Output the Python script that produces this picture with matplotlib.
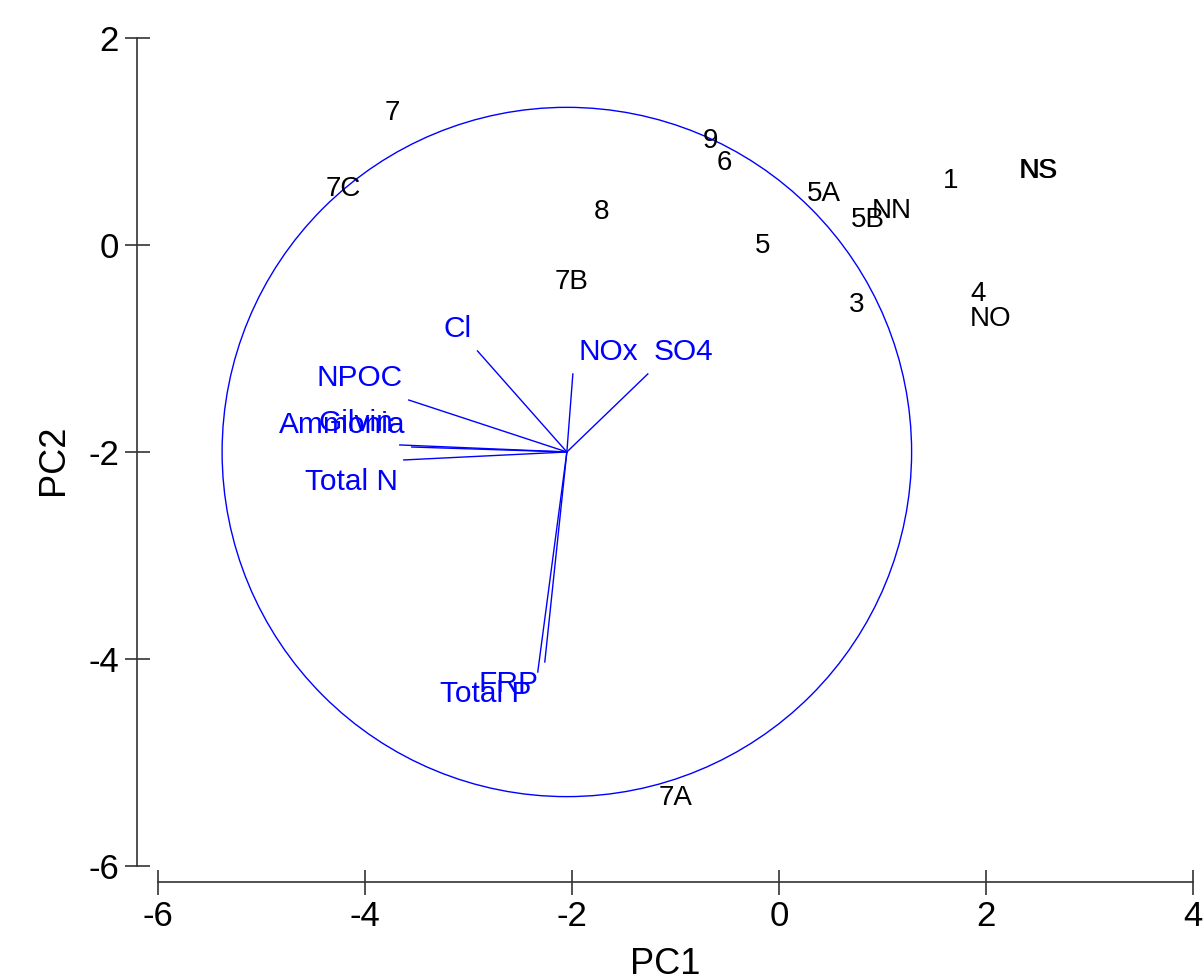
import numpy as np
import matplotlib
matplotlib.use("Agg")
import matplotlib.pyplot as plt
from matplotlib.patches import Circle

plt.rcParams['font.family'] = ['Liberation Sans', 'DejaVu Sans']
plt.rcParams['axes.unicode_minus'] = False

# sample scores (PC1, PC2)
sites = ["7", "7C", "9", "6", "8", "5A", "1", "NS", "NS", "5B", "NN",
         "5", "7B", "3", "4", "NO", "7A"]
pc1 = [-3.73, -4.21, -0.66, -0.53, -1.71, 0.43, 1.66, 2.50, 2.51, 0.86, 1.09,
       -0.16, -2.00, 0.75, 1.92, 2.04, -1.00]
pc2 = [1.30, 0.57, 1.03, 0.82, 0.35, 0.52, 0.65, 0.745, 0.74, 0.27, 0.36,
       0.02, -0.33, -0.55, -0.44, -0.69, -5.31]

# variable vectors, drawn from the circle centre
variables = ["Cl", "NPOC", "Gilvin", "Ammonia", "Total N", "NOx", "SO4",
             "FRP", "Total P"]
load1 = [-0.863, -1.527, -1.614, -1.498, -1.575, 0.058, 0.782, -0.213, -0.281]
load2 = [0.976, 0.502, 0.068, 0.048, -0.077, 0.754, 0.754, -2.029, -2.126]

centre = (-2.048, -2.0)
radius = 3.33

fig = plt.figure(figsize=(12.04, 9.8), dpi=100)
ax = fig.add_axes([137 / 1204, 0.1, 1056 / 1204, 844 / 980])
ax.set_xlim(-6.2, 4.0)
ax.set_ylim(-6.155, 2.0)

ax.add_patch(Circle(centre, radius, fill=False, color="#0000ff", lw=1.0))

for name, dx, dy in zip(variables, load1, load2):
    ex, ey = centre[0] + dx, centre[1] + dy
    ax.plot([centre[0], ex], [centre[1], ey], color="#0000ff", lw=1.0)
    ax.annotate(name, (ex, ey), xytext=(6 * np.sign(dx), 8 * np.sign(dy)),
                textcoords="offset pixels", color="#0000ff", fontsize=21.5,
                ha="right" if dx < 0 else "left",
                va="bottom" if dy > 0 else "top")

for s, x, y in zip(sites, pc1, pc2):
    ax.text(x, y, s, fontsize=20, ha="center", va="center_baseline",
            color="black")

for side in ["top", "right"]:
    ax.spines[side].set_visible(False)
ax.spines["left"].set_bounds(-6, 2)
ax.spines["bottom"].set_bounds(-6, 4)
for side in ["left", "bottom"]:
    ax.spines[side].set_color("#333333")
    ax.spines[side].set_linewidth(1.2)
ax.set_xticks([-6, -4, -2, 0, 2, 4])
ax.set_yticks([2, 0, -2, -4, -6])
ax.tick_params(direction="inout", length=18, width=1.2, color="#333333",
               labelsize=25, pad=4)
ax.set_xlabel("PC1", fontsize=26, labelpad=10)
ax.set_ylabel("PC2", fontsize=26, labelpad=12)

fig.savefig("out.png", dpi=100)
